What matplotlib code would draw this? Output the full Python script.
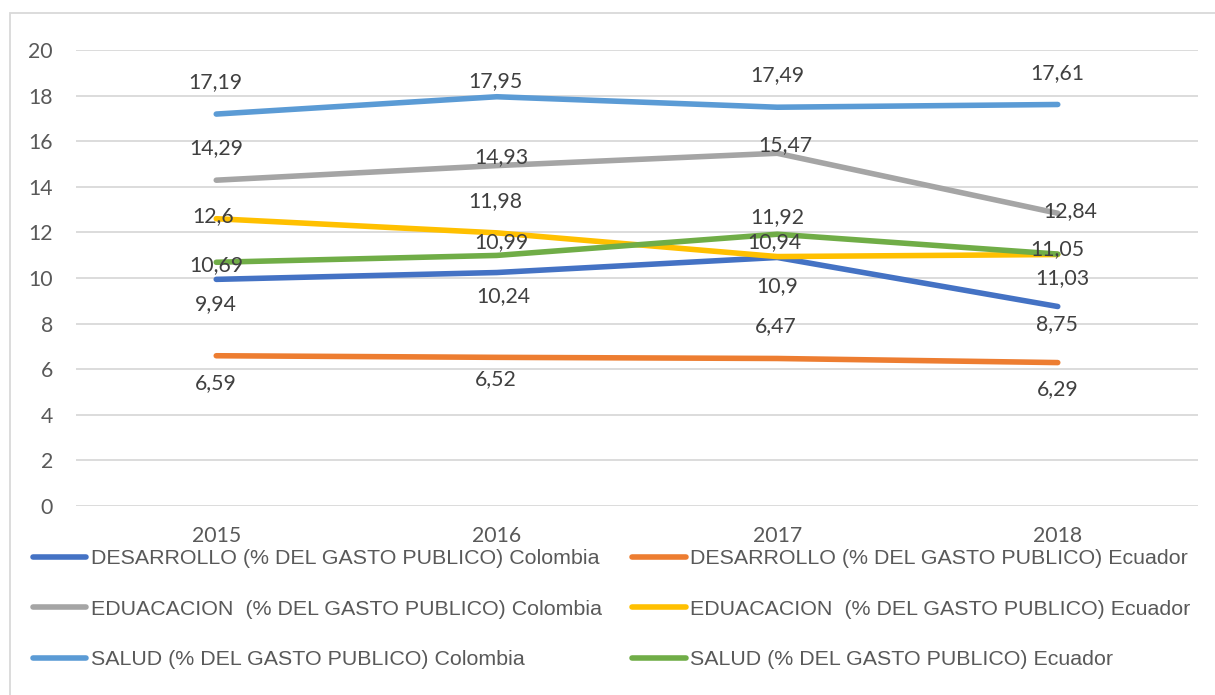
import matplotlib
matplotlib.use("Agg")
import matplotlib.pyplot as plt
from matplotlib.patches import Rectangle

# ---------------- data ----------------
years = ["2015", "2016", "2017", "2018"]
des_col = [9.94, 10.24, 10.9, 8.75]
des_ecu = [6.59, 6.52, 6.47, 6.29]
edu_col = [14.29, 14.93, 15.47, 12.84]
edu_ecu = [12.6, 11.98, 10.94, 11.03]
sal_col = [17.19, 17.95, 17.49, 17.61]
sal_ecu = [10.69, 10.99, 11.92, 11.05]

labels = [
    "DESARROLLO (% DEL GASTO PUBLICO) Colombia",
    "DESARROLLO (% DEL GASTO PUBLICO) Ecuador",
    "EDUACACION  (% DEL GASTO PUBLICO) Colombia",
    "EDUACACION  (% DEL GASTO PUBLICO) Ecuador",
    "SALUD (% DEL GASTO PUBLICO) Colombia",
    "SALUD (% DEL GASTO PUBLICO) Ecuador",
]
series = [des_col, des_ecu, edu_col, edu_ecu, sal_col, sal_ecu]
yticks = [0, 2, 4, 6, 8, 10, 12, 14, 16, 18, 20]

# ---------------- styles ----------------
colors = ["#4472C4", "#ED7D31", "#A5A5A5", "#FFC000", "#5B9BD5", "#70AD47"]
# data-label offsets in pixels (dx right, dy down) per series / year
label_offsets = [
    [(0, 25), (7, 24), (0, 28.5), (-1, 18)],
    [(0, 27), (-1, 22), (-1, -32.5), (0, 27)],
    [(0, -32), (5, -9), (8, -8), (12, -2)],
    [(-3, -3), (-1, -32), (-3, -14), (5, 23.5)],
    [(-1, -31.5), (-1, -16), (0, -32), (0, -31.5)],
    [(0, 3), (5, -13), (0, -17.5), (0, -5)],
]

W, H = 1215, 695
fig = plt.figure(figsize=(W / 100, H / 100), dpi=100)
fig.patch.set_facecolor("white")

# outer chart border
fig.add_artist(Rectangle((10 / W, -0.05), 1.1, 1 - 12.5 / H + 0.05,
                         transform=fig.transFigure, fill=False,
                         edgecolor="#D9D9D9", linewidth=1.3))

left, right = 76 / W, 1198 / W
top, bottom = 1 - 50 / H, 1 - 506 / H
ax = fig.add_axes([left, bottom, right - left, top - bottom])

x = list(range(len(years)))
lines = []
for s, c, lab in zip(series, colors, labels):
    ln, = ax.plot(x, s, color=c, linewidth=4.0, solid_capstyle="round",
                  solid_joinstyle="round", label=lab, zorder=3)
    lines.append(ln)

num_font = "Lato"
for s, offs in zip(series, label_offsets):
    for xi, (v, (dx, dy)) in enumerate(zip(s, offs)):
        txt = f"{v:g}".replace(".", ",")
        ax.annotate(txt, (xi, v), xytext=(dx, -dy), textcoords="offset pixels",
                    ha="center", va="center", fontsize=15.3, family=num_font,
                    color="#404040", zorder=4)

ax.set_xlim(-0.5, 3.5)
ax.set_ylim(0, 20)
ax.set_yticks(yticks)
ax.set_xticks(x)
ax.set_xticklabels(years)
ax.grid(axis="y", color="#D9D9D9", linewidth=1.3, zorder=0)
ax.set_axisbelow(True)
for sp in ax.spines.values():
    sp.set_visible(False)
ax.tick_params(axis="both", length=0, labelsize=15.3, labelcolor="#595959")
ax.tick_params(axis="y", pad=16.5)
ax.tick_params(axis="x", pad=14.5)
for t in ax.get_xticklabels() + ax.get_yticklabels():
    t.set_family(num_font)

# legend: row-major order in reference -> reorder for column filling
order = [0, 2, 4, 1, 3, 5]
leg = fig.legend([lines[i] for i in order], [labels[i] for i in order],
                 ncol=2, loc="upper left",
                 bbox_to_anchor=(32.5 / W, 1 - 549 / H),
                 frameon=False, borderpad=0, borderaxespad=0,
                 handlelength=2.52, handletextpad=0.21, columnspacing=1.4,
                 labelspacing=1.48,
                 prop={"family": "Liberation Sans", "size": 15.4})
for t in leg.get_texts():
    t.set_color("#595959")

fig.savefig("out.png", dpi=100, facecolor="white")
